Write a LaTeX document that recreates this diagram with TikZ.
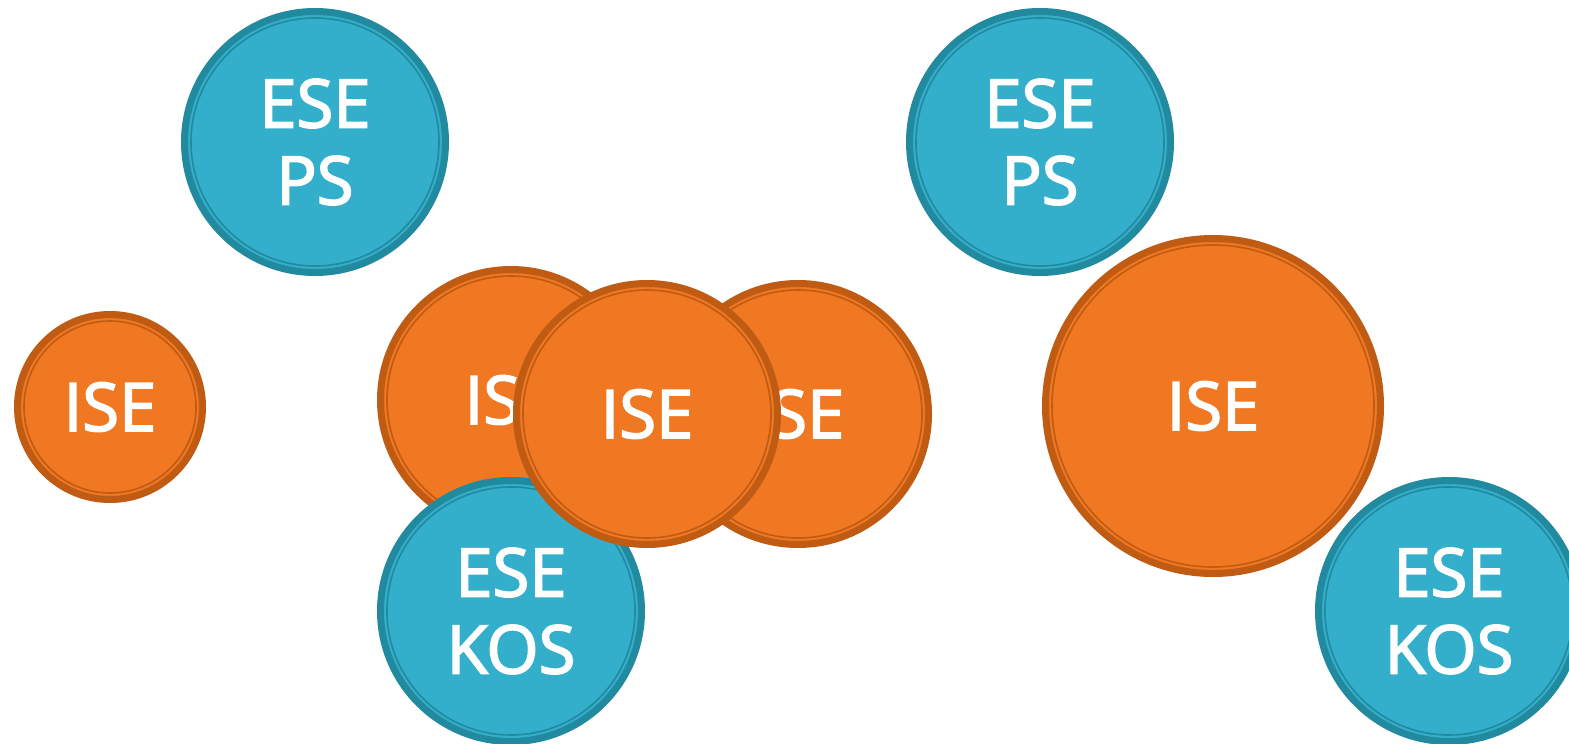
\documentclass[tikz,border=0pt]{standalone}
\usepackage{fontspec}
\newfontfamily\discfont{Open Sans}[FakeBold=2.5]
\usepackage{tikz}
\definecolor{esefill}{HTML}{34AFCB}
\definecolor{eseline}{HTML}{218A9F}
\definecolor{isefill}{HTML}{F07822}
\definecolor{iseline}{HTML}{C05B14}
\tikzset{
  disc/.style 2 args={circle, inner sep=0pt, line width=7pt, minimum size=2*#1-7pt,
    align=center, text=white, font=\discfont\fontsize{67}{77}\selectfont,
    path picture={\draw[#2, line width=1.6pt] (path picture bounding box.center) circle (#1-10pt);}},
  ese/.style={disc={#1}{eseline}, fill=esefill, draw=eseline},
  ise/.style={disc={#1}{iseline}, fill=isefill, draw=iseline}
}
\begin{document}
\begin{tikzpicture}[x=1pt,y=-1pt]
\useasboundingbox (0,0) rectangle (1569,744);

\node[ese=134pt] (psl) at (315,142) {ESE\\PS};
\node[ese=134pt] (psr) at (1040,142) {ESE\\PS};
\node[ise=96pt]  (isa) at (110,407) {ISE};
\node[ise=134pt] (isb) at (511,400) {ISE};
\node[ese=134pt] (kosl) at (511,611) {ESE\\KOS};
\node[ise=134pt] (isc) at (798,414) {ISE};
\node[ise=134pt] (isd) at (647,414) {ISE};
\node[ise=171pt] (ise) at (1213,406) {ISE};
\node[ese=134pt] (kosr) at (1449,611) {ESE\\KOS};
\end{tikzpicture}
\end{document}
